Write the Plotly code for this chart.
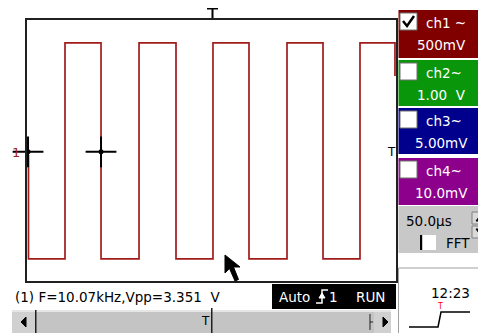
import plotly.graph_objects as go

# The page body adds an 8px margin; the figure is sized and laid out so that
# the 486x333 window shows it like the reference.
OFF = 8
W, H = 486 - OFF, 333 - OFF

time_range_us = [0, 500]          # 10 div x 50.0 us
volt_range_v = [-2.0, 2.0]        # 8 div x 500 mV
high_level_v = 1.65
low_level_v = -1.66
start_t_us = 2.0
start_v = -0.07
rising_t_us = [51.5, 151.8, 252.0, 352.3, 451.2]
falling_t_us = [100.3, 201.9, 300.8, 401.1, 498.6]
end_v = 1.14
cursor_t_us = [1.4, 100.3]
cursor_v = [-0.02, -0.02]

channels = ["ch1 ~", "ch2~", "ch3~", "ch4~"]
channel_scales = ["500mV", "1.00\u00a0\u00a0V", "5.00mV", "10.0mV"]
channel_on = [True, False, False, False]
timebase = "50.0µs"
measure_text = "(1) F=10.07kHz,Vpp=3.351\u00a0\u00a0V"
clock_text = "12:23"

# ---- build step waveform from edges ----
ts = [start_t_us, start_t_us]
vs = [start_v, low_level_v]
for r, f in zip(rising_t_us, falling_t_us):
    ts += [r, r, f]
    vs += [low_level_v, high_level_v, high_level_v]
    if f != falling_t_us[-1]:
        ts += [f]
        vs += [low_level_v]
ts += [falling_t_us[-1]]
vs += [end_v]


def X(px):
    return (px - OFF) / W


def Y(py):
    return 1 - (py - OFF) / H


FONT = "DejaVu Sans"
shapes = []
ann = []


def rect(x0, y0, x1, y1, fill, line=None, lw=1):
    shapes.append(dict(type="rect", xref="paper", yref="paper",
                       x0=X(x0), x1=X(x1), y0=Y(y1), y1=Y(y0),
                       fillcolor=fill,
                       line=dict(color=line or fill, width=lw if line else 0),
                       layer="above"))


def path(pts, color="black", width=1, fill=None, closed=False):
    d = "M" + " L".join(f"{X(x):.5f},{Y(y):.5f}" for x, y in pts)
    if closed:
        d += " Z"
    s = dict(type="path", xref="paper", yref="paper", path=d,
             line=dict(color=color, width=width), layer="above")
    if fill:
        s["fillcolor"] = fill
    shapes.append(s)


def text(x, y, s, size=13.5, color="black", xa="left"):
    ann.append(dict(x=X(x), y=Y(y), xref="paper", yref="paper", text=s,
                    showarrow=False, xanchor=xa, yanchor="middle",
                    font=dict(family=FONT, size=size, color=color)))


fig = go.Figure()
fig.add_trace(go.Scatter(x=ts, y=vs, mode="lines",
                         line=dict(color="#a01c1c", width=1.7),
                         hoverinfo="skip"))
fig.add_trace(go.Scatter(x=cursor_t_us, y=cursor_v, mode="markers",
                         marker=dict(symbol="cross-thin-open", size=22,
                                     color="black",
                                     line=dict(color="black", width=2)),
                         cliponaxis=False, hoverinfo="skip"))
fig.add_trace(go.Scatter(x=cursor_t_us, y=cursor_v, mode="markers",
                         marker=dict(symbol="circle", size=5, color="black"),
                         cliponaxis=False, hoverinfo="skip"))

# ---- right channel panels ----
ch_colors = ["#800000", "#0a960a", "#00008c", "#8c008c"]
ch_tops = [10, 60, 108, 158]
ch_bots = [58, 106, 154, 205]
for name, sc, on, col, t, b in zip(channels, channel_scales, channel_on,
                                   ch_colors, ch_tops, ch_bots):
    rect(398.5, t, 486, b, col)
    rect(400, t + 3, 417, t + 20, "white", line="#707070", lw=1)
    if on:
        path([(403, t + 11), (407, t + 16), (414, t + 6)], color="black", width=2.5)
    text(424, t + 13, name, color="white")
    text(441, t + 35, sc, color="white", xa="center")

# gray timebase panel
rect(398.5, 206, 486, 253, "#c8c8c8")
text(404, 221, timebase)
rect(472, 212, 486, 224, "#d8d8d8", line="#808080")
rect(472, 226, 486, 238, "#d8d8d8", line="#808080")
path([(476, 221), (479, 217), (482, 221)], fill="black", closed=True)
path([(476, 229), (479, 233), (482, 229)], fill="black", closed=True)
rect(420, 235, 422, 250, "black")
rect(423, 235, 436, 250, "white")
text(444, 243, "FFT")

# clock box
path([(486, 268), (398.5, 268), (398.5, 333)], color="#a0a0a0", width=1)
text(450, 293, clock_text, xa="center")
path([(409, 327), (438, 327), (441, 312), (470, 312)], color="black", width=1.5)
text(440, 306, "T", size=8, color="red", xa="center")

# bottom status bar
text(13, 297, measure_text)
rect(272, 284, 396, 309, "black")
text(277, 297, "Auto", color="white")
path([(316, 303), (322, 303), (322, 290), (328, 290)], color="white", width=1.5)
path([(319, 298), (322, 293), (325, 298)], color="white", fill="white", closed=True)
text(327, 297, "1", color="white")
text(354, 297, "RUN", color="white")

# scrollbar
rect(12, 310, 391, 333, "#c4c4c4")
rect(12, 310, 391, 312, "#e6e6e6")
rect(12, 312, 35, 333, "#d0d0d0")
path([(21, 322), (26, 317), (26, 327)], fill="black", closed=True)
rect(35, 310, 36.5, 333, "#202020")
rect(211, 308, 212.5, 333, "#202020")
text(205, 321, "T", size=12, xa="center")
path([(370, 314), (370, 330)], color="#202020", width=1)
path([(370, 322), (373, 322)], color="#202020", width=1)
rect(374, 312, 391, 333, "#d0d0d0")
path([(383, 317), (388, 322), (383, 327)], fill="black", closed=True)

# trace markers
path([(207, 8.5), (218, 8.5)], width=2)
path([(212.5, 8.5), (212.5, 18)], width=2)
text(391, 152, "T", size=12, xa="center")
text(16, 152, "1", size=13, color="#a01c1c", xa="center")

# mouse pointer
path([(225, 255), (225, 273), (229.5, 268.5), (235, 281), (238.5, 279.5),
      (233.5, 267), (240, 267)], color="black", width=1, fill="black", closed=True)

fig.update_layout(
    width=W, height=H, margin=dict(l=0, r=0, t=0, b=0),
    paper_bgcolor="white", plot_bgcolor="white", showlegend=False,
    xaxis=dict(domain=[X(27), X(396)], range=time_range_us, showgrid=False,
               zeroline=False, showticklabels=False, ticks="",
               showline=True, mirror=True, linecolor="#202020", linewidth=2),
    yaxis=dict(domain=[Y(281), Y(20)], range=volt_range_v, showgrid=False,
               zeroline=False, showticklabels=False, ticks="",
               showline=True, mirror=True, linecolor="#202020", linewidth=2),
    shapes=shapes, annotations=ann,
)
fig.write_html("out.html")
